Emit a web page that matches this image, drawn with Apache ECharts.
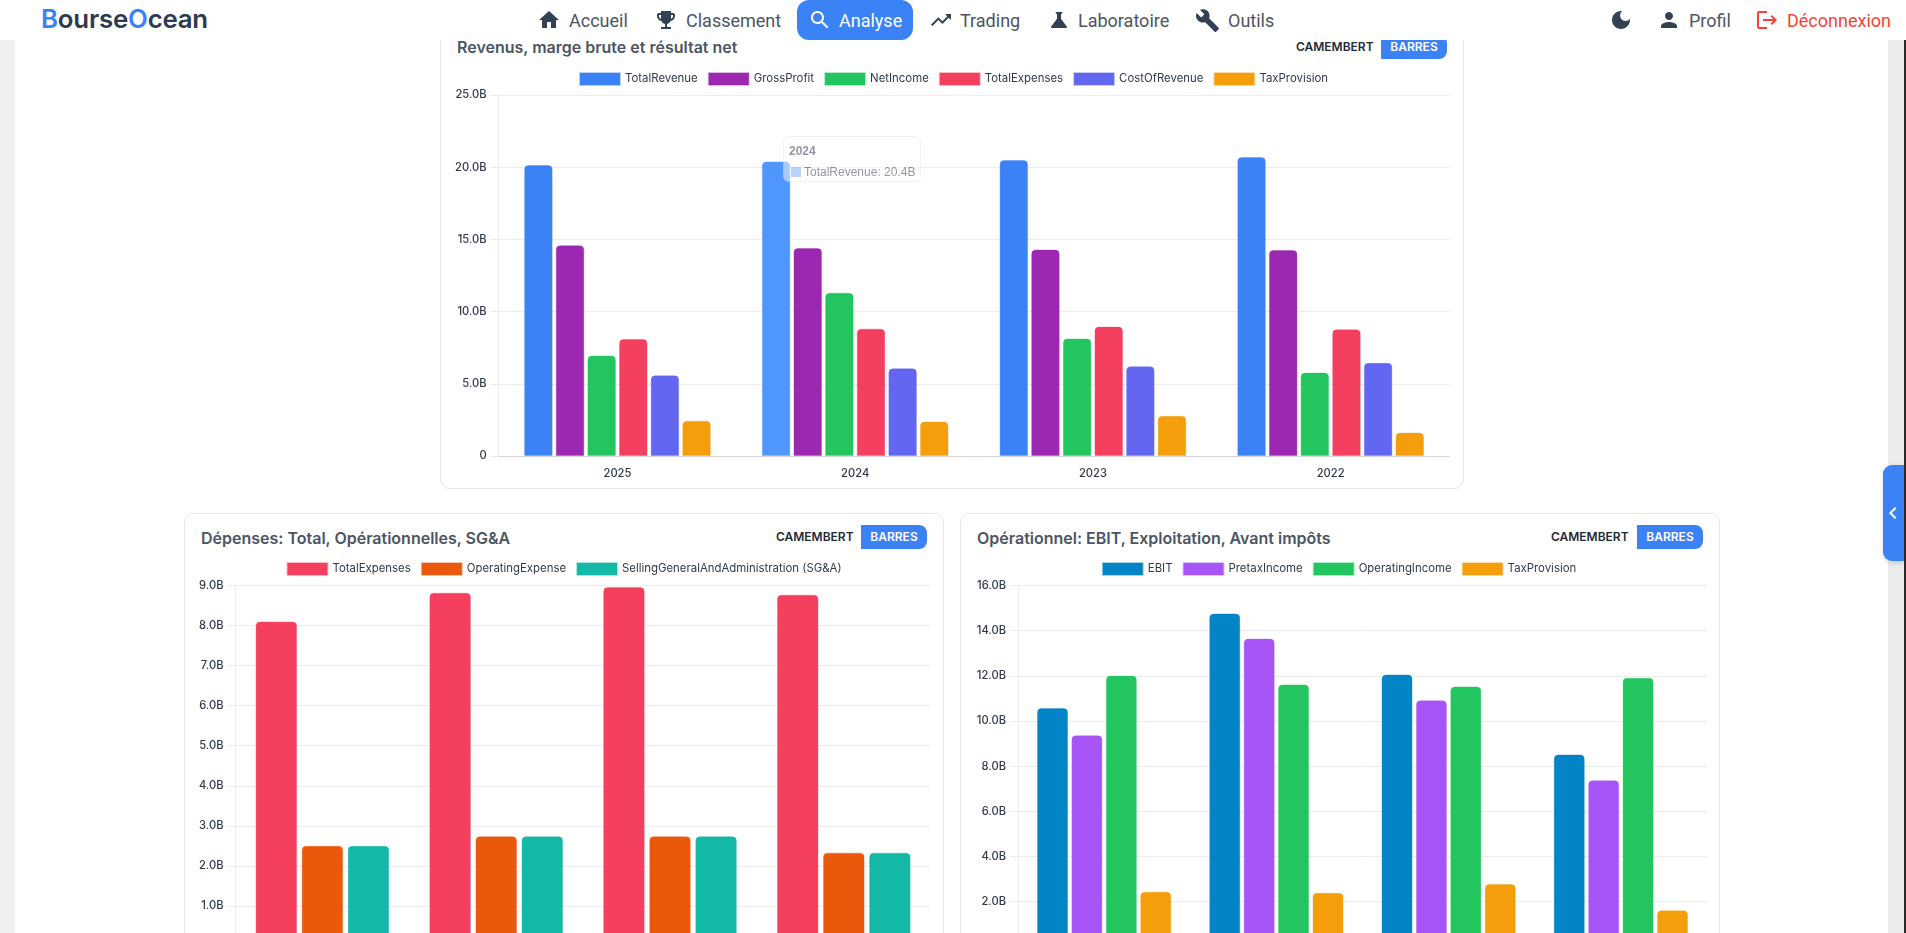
<!DOCTYPE html>
<html lang="fr">
<head>
<meta charset="utf-8">
<title>BourseOcean - Analyse</title>
<script src="https://cdn.jsdelivr.net/npm/echarts@6/dist/echarts.min.js"></script>
<style>
  html, body { margin: 0; width: 1906px; height: 933px; overflow: hidden; background: #fff; font-family: Inter, sans-serif; }
  #nav { position: absolute; left: 0; top: 0; width: 1906px; height: 40px; background: #fff; z-index: 10; }
  #nav span, #nav svg { position: absolute; }
  #nav span { font: 400 18px/40px Roboto, sans-serif; color: #4b5563; white-space: nowrap; top: 1px; }
  #nav svg { fill: #334155; }
  #logo { position: absolute; left: 41px; top: 0; font: 600 25.8px/37px Inter, sans-serif; color: #2d3a52; letter-spacing: -0.2px; }
  #logo b { color: #3b82f6; font-weight: 600; }
  #active { position: absolute; left: 797px; top: 0; width: 116px; height: 40px; background: #3b82f6; border-radius: 12px; }
  .gutterL { position: absolute; left: 0; top: 40px; width: 15px; height: 893px; background: #f0f0f0; }
  .gutterR { position: absolute; left: 1888px; top: 40px; width: 16px; height: 893px; background: #ececec; }
  .edge { position: absolute; left: 1904px; top: 40px; width: 2px; height: 893px; background: #2b2b2b; }
  .tab { position: absolute; left: 1883px; top: 465px; width: 21px; height: 96px; background: #3b82f6; border-radius: 9px 0 0 9px; z-index: 5; box-shadow: 0 2px 5px rgba(0,0,0,.15); }
  .tab svg { position: absolute; left: -2px; top: 36px; fill: #fff; }
  .card { position: absolute; border: 1px solid #e5e7eb; border-radius: 10px; background: #fff; box-sizing: border-box; }
  .title { position: absolute; font: 600 16px/20px Inter, sans-serif; color: #4b5563; white-space: nowrap; }
  .cam { position: absolute; font: 600 12px/24px Inter, sans-serif; color: #1f2937; white-space: nowrap; }
  .bar { position: absolute; width: 66px; height: 24px; background: #3b82f6; border-radius: 0 8px 8px 0; font: 600 12px/24px Inter, sans-serif; color: #fff; text-align: center; }
  .chart { position: absolute; }
</style>
</head>
<body>
<div class="gutterL"></div><div class="gutterR"></div><div class="edge"></div>

<div class="card" style="left:440px;top:10px;width:1024px;height:479px"></div>
<div class="title" style="left:457px;top:37px">Revenus, marge brute et résultat net</div>
<div class="cam" style="left:1296px;top:35px">CAMEMBERT</div>
<div class="bar" style="left:1381px;top:35px">BARRES</div>
<div class="chart" id="chartRevenue" style="left:448px;top:60px;width:1011px;height:425px"></div>

<div class="card" style="left:184px;top:513px;width:760px;height:480px"></div>
<div class="title" style="left:201px;top:528px">Dépenses: Total, Opérationnelles, SG&amp;A</div>
<div class="cam" style="left:776px;top:525px">CAMEMBERT</div>
<div class="bar" style="left:861px;top:525px">BARRES</div>
<div class="chart" id="chartExpenses" style="left:195px;top:555px;width:738px;height:430px"></div>

<div class="card" style="left:960px;top:513px;width:760px;height:480px"></div>
<div class="title" style="left:977px;top:528px">Opérationnel: EBIT, Exploitation, Avant impôts</div>
<div class="cam" style="left:1551px;top:525px">CAMEMBERT</div>
<div class="bar" style="left:1637px;top:525px">BARRES</div>
<div class="chart" id="chartOperating" style="left:970px;top:555px;width:738px;height:430px"></div>

<div class="tab"><svg width="24" height="24" viewBox="0 0 24 24"><path d="M15.41 7.41L14 6l-6 6 6 6 1.41-1.41L10.83 12z"/></svg></div>

<div id="nav">
  <div id="logo"><b>B</b>ourse<b>O</b>cean</div>
  <div id="active"></div>
  <svg style="left:537px;top:8px" width="24" height="24" viewBox="0 0 24 24"><path d="M10 20v-6h4v6h5v-8h3L12 3 2 12h3v8z"/></svg>
  <span style="left:569px">Accueil</span>
  <svg style="left:654px;top:8px" width="24" height="24" viewBox="0 0 24 24"><path d="M19 5h-2V3H7v2H5c-1.1 0-2 .9-2 2v1c0 2.55 1.92 4.63 4.39 4.94.63 1.5 1.98 2.63 3.61 2.96V19H7v2h10v-2h-4v-3.1c1.63-.33 2.98-1.46 3.61-2.96C19.08 12.63 21 10.55 21 8V7c0-1.1-.9-2-2-2zM5 8V7h2v3.82C5.84 10.4 5 9.3 5 8zm14 0c0 1.3-.84 2.4-2 2.82V7h2v1z"/></svg>
  <span style="left:686px">Classement</span>
  <svg style="left:808px;top:8px;fill:#fff" width="24" height="24" viewBox="0 0 24 24"><path d="M15.5 14h-.79l-.28-.27C15.41 12.59 16 11.11 16 9.5 16 5.91 13.09 3 9.5 3S3 5.91 3 9.5 5.91 16 9.5 16c1.61 0 3.09-.59 4.23-1.57l.27.28v.79l5 4.99L20.49 19l-4.99-5zm-6 0C7.01 14 5 11.99 5 9.5S7.01 5 9.5 5 14 7.01 14 9.5 11.99 14 9.5 14z"/></svg>
  <span style="left:839px;color:#fff">Analyse</span>
  <svg style="left:929px;top:8px" width="24" height="24" viewBox="0 0 24 24"><path d="M16 6l2.29 2.29-4.88 4.88-4-4L2 16.59 3.41 18l6-6 4 4 6.3-6.29L22 12V6z"/></svg>
  <span style="left:960px">Trading</span>
  <svg style="left:1047px;top:8px" width="24" height="24" viewBox="0 0 24 24"><path d="M19.8 18.4 14 10.67V6.5l1.35-1.69c.26-.33.03-.81-.39-.81H9.04c-.42 0-.65.48-.39.81L10 6.5v4.17L4.2 18.4c-.49.66-.02 1.6.8 1.6h14c.82 0 1.29-.94.8-1.6z"/></svg>
  <span style="left:1078px">Laboratoire</span>
  <svg style="left:1195px;top:8px" width="25" height="25" viewBox="0 0 24 24"><path d="M22.7 19l-9.1-9.1c.9-2.3.4-5-1.5-6.9-2-2-5-2.4-7.4-1.3L9 6 6 9 1.6 4.7C.4 7.1.9 10.1 2.9 12.1c1.9 1.9 4.6 2.4 6.9 1.5l9.1 9.1c.4.4 1 .4 1.4 0l2.3-2.3c.5-.4.5-1.1.1-1.4z"/></svg>
  <span style="left:1228px">Outils</span>
  <svg style="left:1609px;top:8px" width="24" height="24" viewBox="0 0 24 24"><path d="M12 3c-4.97 0-9 4.03-9 9s4.03 9 9 9 9-4.03 9-9c0-.46-.04-.92-.1-1.36-.98 1.37-2.58 2.26-4.4 2.26-2.98 0-5.4-2.42-5.4-5.4 0-1.81.89-3.42 2.26-4.4-.44-.06-.9-.1-1.36-.1z"/></svg>
  <svg style="left:1657px;top:8px" width="24" height="24" viewBox="0 0 24 24"><path d="M12 12c2.21 0 4-1.79 4-4s-1.79-4-4-4-4 1.79-4 4 1.79 4 4 4zm0 2c-2.67 0-8 1.34-8 4v2h16v-2c0-2.66-5.33-4-8-4z"/></svg>
  <span style="left:1689px">Profil</span>
  <svg style="left:1755px;top:8px;fill:#f44336" width="24" height="24" viewBox="0 0 24 24"><path d="M17 7l-1.41 1.41L18.17 11H8v2h10.17l-2.58 2.58L17 17l5-5zM4 5h8V3H4c-1.1 0-2 .9-2 2v14c0 1.1.9 2 2 2h8v-2H4V5z"/></svg>
  <span style="left:1787px;color:#f44336">Déconnexion</span>
</div>

<script>
// Fiscal years, newest first, and statement lines in billions.
const years = ['2025', '2024', '2023', '2022'];

const totalRevenue = [20.15, 20.4, 20.5, 20.7];
const grossProfit = [14.6, 14.4, 14.3, 14.27];
const netIncome = [6.96, 11.3, 8.14, 5.78];
const totalExpenses = [8.1, 8.82, 8.96, 8.77];
const costOfRevenue = [5.59, 6.08, 6.22, 6.45];
const taxProvision = [2.44, 2.39, 2.78, 1.62];
const operatingExpense = [2.5, 2.74, 2.74, 2.33];
const sellingGeneralAdmin = [2.5, 2.74, 2.74, 2.33];
const ebit = [10.57, 14.76, 12.06, 8.52];
const pretaxIncome = [9.37, 13.65, 10.92, 7.38];
const operatingIncome = [12.01, 11.62, 11.53, 11.92];

const fontFamily = 'Inter, sans-serif';
const labelColor = '#2f3a4a';

function withAlpha(hex, a) {
  const n = parseInt(hex.slice(1), 16);
  return `rgba(${n >> 16},${(n >> 8) & 255},${n & 255},${a})`;
}

function barChart(id, cfg) {
  const chart = echarts.init(document.getElementById(id), null, { renderer: 'canvas' });
  chart.setOption({
    animation: false,
    legend: {
      top: cfg.legendTop, left: 'center', icon: 'rect',
      itemWidth: 40, itemHeight: 12, itemGap: 10,
      textStyle: { fontFamily, fontSize: 11.4, color: labelColor }
    },
    tooltip: {
      trigger: 'item', renderMode: 'html', transitionDuration: 0, alwaysShowContent: true,
      padding: 0, borderWidth: 0, backgroundColor: 'transparent', extraCssText: 'box-shadow:none;',
      position: (pt, params, dom, rect) => [rect.x + 21, rect.y - 25],
      formatter: p => `<div style="opacity:.55;background:rgba(255,255,255,.92);border:1px solid #e5e7eb;border-radius:6px;padding:6px 6px 7px 5px;width:125px;height:31px;font:12px/16px 'Liberation Sans',Arial,sans-serif;color:#374151;white-space:nowrap"><div style="font-weight:700;margin-bottom:5px">${p.name}</div><span style="display:inline-block;width:10px;height:10px;background:#7fb0fb;margin:0 3px 0 2px;vertical-align:-1px"></span>${p.seriesName}: ${p.value.toFixed(1)}B</div>`
    },
    grid: Object.assign({ containLabel: false }, cfg.grid),
    xAxis: {
      type: 'category', data: years,
      axisTick: { show: false },
      axisLine: { lineStyle: { color: '#d4d4d8', width: 1 } },
      axisLabel: { fontFamily, fontSize: 11.2, fontWeight: 500, color: labelColor, margin: 12 }
    },
    yAxis: {
      type: 'value', min: 0, max: cfg.max, interval: cfg.interval,
      axisLine: { show: true, lineStyle: { color: '#ececec' } },
      axisTick: { show: true, length: 8, lineStyle: { color: '#ececec' } },
      splitLine: { lineStyle: { color: '#ececec' } },
      axisLabel: {
        fontFamily, fontSize: 11.2, fontWeight: 500, color: labelColor, margin: 12,
        formatter: v => v === 0 ? '0' : v.toFixed(1) + 'B'
      }
    },
    series: cfg.series.map(s => ({
      name: s.name, type: 'bar', data: s.data,
      barWidth: cfg.barWidth, barGap: cfg.barGap,
      itemStyle: { color: s.color, borderRadius: [4, 4, 0, 0], borderWidth: 1, borderColor: withAlpha(s.color, 0.35) },
      emphasis: { focus: 'none', itemStyle: { color: '#4f97ff', borderColor: withAlpha('#4f97ff', 0.35) } }
    }))
  });
  return chart;
}

const revenueChart = barChart('chartRevenue', {
  legendTop: 7, max: 25, interval: 5,
  grid: { left: 50.6, right: 9.5, top: 35, height: 361 },
  barWidth: 28.5, barGap: '11%',
  series: [
    { name: 'TotalRevenue', data: totalRevenue, color: '#3b82f6' },
    { name: 'GrossProfit', data: grossProfit, color: '#9c27b0' },
    { name: 'NetIncome', data: netIncome, color: '#22c55e' },
    { name: 'TotalExpenses', data: totalExpenses, color: '#f43f5e' },
    { name: 'CostOfRevenue', data: costOfRevenue, color: '#6366f1' },
    { name: 'TaxProvision', data: taxProvision, color: '#f59e0b' }
  ]
});

barChart('chartExpenses', {
  legendTop: 2, max: 9, interval: 1,
  grid: { left: 40.5, right: 2.3, top: 30.5, height: 360.5 },
  barWidth: 41.5, barGap: '11%',
  series: [
    { name: 'TotalExpenses', data: totalExpenses, color: '#f43f5e' },
    { name: 'OperatingExpense', data: operatingExpense, color: '#ea580c' },
    { name: 'SellingGeneralAndAdministration (SG&A)', data: sellingGeneralAdmin, color: '#14b8a6' }
  ]
});

barChart('chartOperating', {
  legendTop: 2, max: 16, interval: 2,
  grid: { left: 48, right: 1, top: 30.5, height: 361.3 },
  barWidth: 31, barGap: '11%',
  series: [
    { name: 'EBIT', data: ebit, color: '#0284c7' },
    { name: 'PretaxIncome', data: pretaxIncome, color: '#a855f7' },
    { name: 'OperatingIncome', data: operatingIncome, color: '#22c55e' },
    { name: 'TaxProvision', data: taxProvision, color: '#f59e0b' }
  ]
});

// The 2024 revenue bar is the hovered one: highlight it and pin its tooltip.
revenueChart.dispatchAction({ type: 'highlight', seriesIndex: 0, dataIndex: 1 });
revenueChart.dispatchAction({ type: 'showTip', seriesIndex: 0, dataIndex: 1 });
</script>
</body>
</html>
